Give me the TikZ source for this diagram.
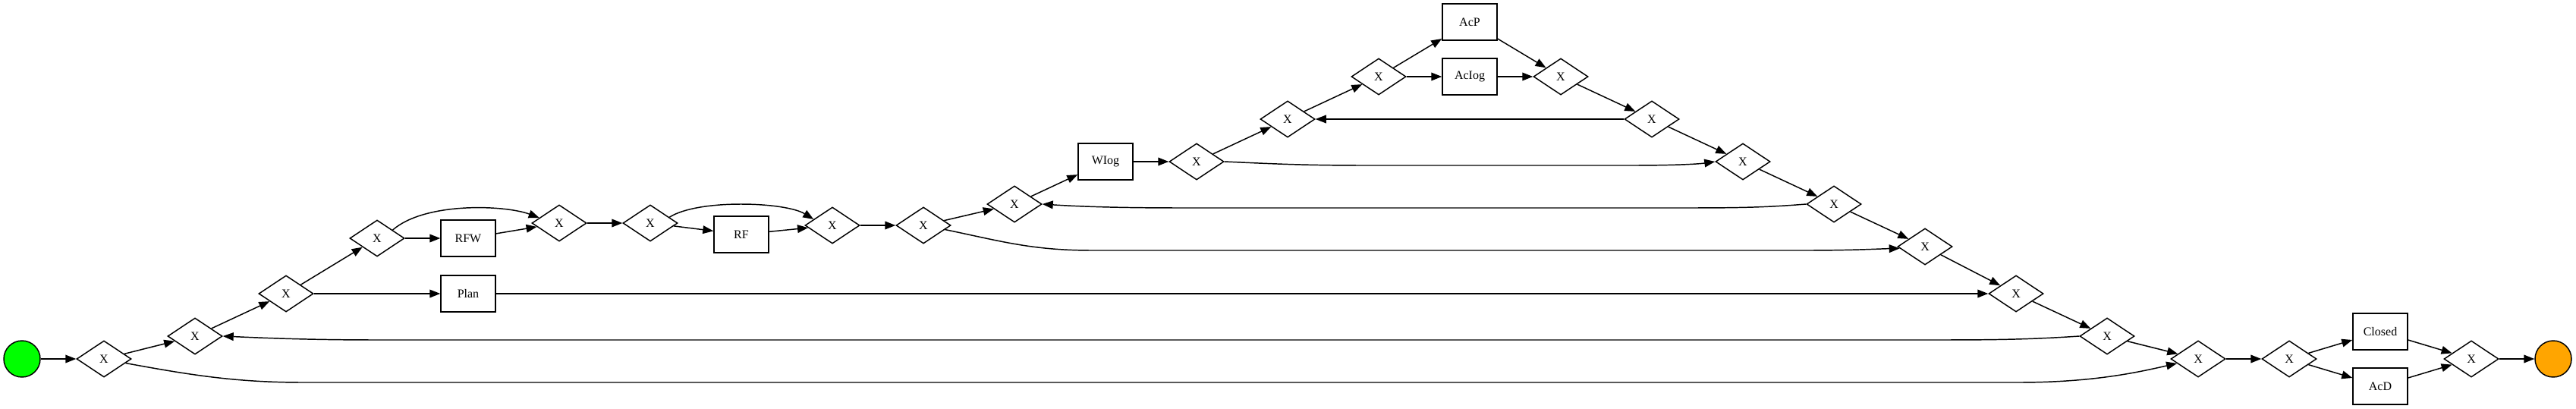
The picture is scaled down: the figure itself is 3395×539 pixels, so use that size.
\documentclass[tikz,border=0pt]{standalone}
\usepackage{fontspec}
\setmainfont{Liberation Serif}
\definecolor{startgreen}{RGB}{0,255,0}
\definecolor{endorange}{RGB}{255,165,0}
\usetikzlibrary{shapes.geometric, arrows.meta}

\begin{document}
\begin{tikzpicture}[x=0.75pt, y=-0.75pt, line width=1.1pt, font=\fontsize{12}{14}\selectfont,
                gw/.style={draw, diamond, shape aspect=1.5, minimum width=54pt, minimum height=36pt, inner sep=0pt},
                task/.style={draw, minimum width=54pt, minimum height=36pt, inner sep=0pt},
                ev/.style={draw, circle, minimum size=36pt, inner sep=0pt},
                flow/.style={-{Triangle[length=10.5pt, width=8pt]}}]
                \useasboundingbox (0,0) rectangle (3395,539);

                \node[ev, fill=startgreen] (start) at (29,473) {};
                \node[gw] (g1) at (137,473) {X};
                \node[gw] (g2) at (257,443) {X};
                \node[gw] (g3) at (377,387) {X};
                \node[gw] (g4) at (497,314) {X};
                \node[task] (rfw) at (617,314) {RFW};
                \node[task] (plan) at (617,387) {Plan};
                \node[gw] (g5) at (737,294) {X};
                \node[gw] (g6) at (857,294) {X};
                \node[task] (rf) at (977,309) {RF};
                \node[gw] (g7) at (1097,297) {X};
                \node[gw] (g8) at (1217,297) {X};
                \node[gw] (g9) at (1337,269) {X};
                \node[task] (wiog) at (1457,213) {WIog};
                \node[gw] (g10) at (1577,213) {X};
                \node[gw] (g11) at (1697,157) {X};
                \node[gw] (g12) at (1817,101) {X};
                \node[task] (acp) at (1937,29) {AcP};
                \node[task] (aciog) at (1937,101) {AcIog};
                \node[gw] (g13) at (2057,101) {X};
                \node[gw] (g14) at (2177,157) {X};
                \node[gw] (g15) at (2297,213) {X};
                \node[gw] (g16) at (2417,269) {X};
                \node[gw] (g17) at (2537,325) {X};
                \node[gw] (g18) at (2657,387) {X};
                \node[gw] (g19) at (2777,443) {X};
                \node[gw] (g20) at (2897,473) {X};
                \node[gw] (g21) at (3017,473) {X};
                \node[task] (closed) at (3137,437) {Closed};
                \node[task] (acd) at (3137,509) {AcD};
                \node[gw] (g22) at (3257,473) {X};
                \node[ev, fill=endorange] (finish) at (3365,473) {};

                \draw[flow] (start) -- (g1);
                \draw[flow] (g1) -- (g2);
                \draw[flow] (g2) -- (g3);
                \draw[flow] (g3) -- (g4);
                \draw[flow] (g3) -- (plan);
                \draw[flow] (g4) -- (rfw);
                \draw[flow] (g4.28) .. controls (560,266) and (665,270) .. (g5.165);
                \draw[flow] (rfw) -- (g5);
                \draw[flow] (g5) -- (g6);
                \draw[flow] (g6) -- (rf);
                \draw[flow] (g6.17) .. controls (920,262) and (1035,266) .. (g7.162);
                \draw[flow] (rf) -- (g7);
                \draw[flow] (g7) -- (g8);
                \draw[flow] (g8) -- (g9);
                \draw[flow] (g9) -- (wiog);
                \draw[flow] (wiog) -- (g10);
                \draw[flow] (g10) -- (g11);
                \draw[flow] (g11) -- (g12);
                \draw[flow] (g12) -- (acp);
                \draw[flow] (g12) -- (aciog);
                \draw[flow] (acp) -- (g13);
                \draw[flow] (aciog) -- (g13);
                \draw[flow] (g13) -- (g14);
                \draw[flow] (g14) -- (g11);
                \draw[flow] (g14) -- (g15);
                \draw[flow] (g15) -- (g16);
                \draw[flow] (g16) -- (g17);
                \draw[flow] (g17) -- (g18);
                \draw[flow] (plan) -- (g18);
                \draw[flow] (g18) -- (g19);
                \draw[flow] (g19) -- (g20);
                \draw[flow] (g20) -- (g21);
                \draw[flow] (g21) -- (closed);
                \draw[flow] (g21) -- (acd);
                \draw[flow] (closed) -- (g22);
                \draw[flow] (acd) -- (g22);
                \draw[flow] (g22) -- (finish);

                \draw[flow] (g1.-11) .. controls (250,494) and (310,504) .. (400,504) -- (2660,504) .. controls (2760,504) and (2820,490) .. (g20.192);
                \draw[flow] (g8.-11) .. controls (1320,318) and (1360,330) .. (1440,330) -- (2380,330) .. controls (2440,330) and (2475,328) .. (g17.184);
                \draw[flow] (g10.east) .. controls (1680,216) and (1720,218) .. (1800,218) -- (2150,218) .. controls (2210,218) and (2240,216) .. (g15.west);
                \draw[flow] (g16.west) .. controls (2330,273) and (2300,274) .. (2220,274) -- (1560,274) .. controls (1470,274) and (1420,272) .. (g9.east);
                \draw[flow] (g19.west) .. controls (2680,447) and (2640,448) .. (2550,448) -- (500,448) .. controls (400,448) and (340,445) .. (g2.east);
            \end{tikzpicture}
\end{document}
